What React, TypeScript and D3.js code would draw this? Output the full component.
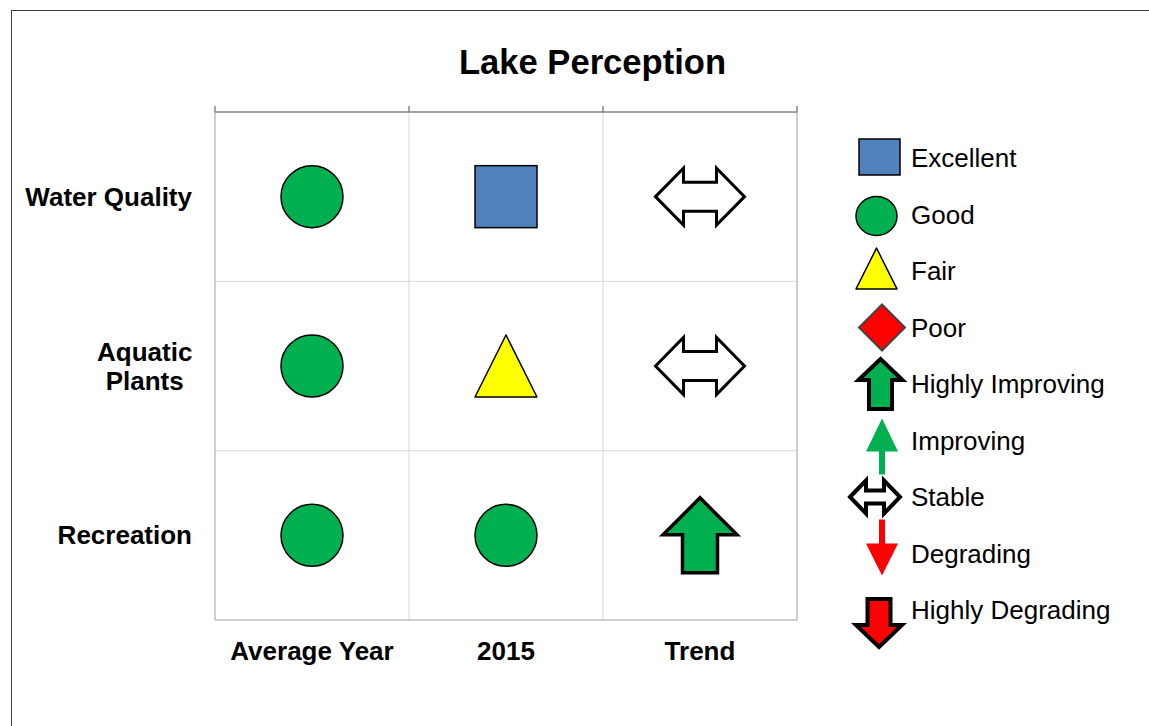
import * as d3 from "d3"

const rowLabels = [["Water Quality"], ["Aquatic", "Plants"], ["Recreation"]]
const colLabels = ["Average Year", "2015", "Trend"]
// rating of each cell, row by row
const ratings = [
  ["Good", "Excellent", "Stable"],
  ["Good", "Fair", "Stable"],
  ["Good", "Good", "Highly Improving"],
]
const legendItems = [
  "Excellent", "Good", "Fair", "Poor", "Highly Improving",
  "Improving", "Stable", "Degrading", "Highly Degrading",
]

const W = 1149
const H = 726
const FONT = "'Liberation Sans', Arial, Helvetica, sans-serif"
const GREEN = "#00B050"
const BLUE = "#4F81BD"
const YELLOW = "#FFFF00"
const RED = "#FF0000"

function line(pts: [number, number][]) {
  return d3.line()(pts.concat([pts[0]])) + "Z"
}

function arrowUp(cx: number, cy: number, headW: number, shaftW: number, h: number, headH: number) {
  const top = cy - h / 2
  const bot = cy + h / 2
  return line([
    [cx, top], [cx + headW / 2, top + headH], [cx + shaftW / 2, top + headH],
    [cx + shaftW / 2, bot], [cx - shaftW / 2, bot], [cx - shaftW / 2, top + headH],
    [cx - headW / 2, top + headH],
  ])
}

function arrowDown(cx: number, cy: number, headW: number, shaftW: number, h: number, headH: number) {
  const top = cy - h / 2
  const bot = cy + h / 2
  return line([
    [cx, bot], [cx + headW / 2, bot - headH], [cx + shaftW / 2, bot - headH],
    [cx + shaftW / 2, top], [cx - shaftW / 2, top], [cx - shaftW / 2, bot - headH],
    [cx - headW / 2, bot - headH],
  ])
}

function doubleArrow(cx: number, cy: number, w: number, h: number, headL: number, shaftH: number) {
  const l = cx - w / 2, r = cx + w / 2
  return line([
    [l, cy], [l + headL, cy - h / 2], [l + headL, cy - shaftH / 2], [r - headL, cy - shaftH / 2],
    [r - headL, cy - h / 2], [r, cy], [r - headL, cy + h / 2], [r - headL, cy + shaftH / 2],
    [l + headL, cy + shaftH / 2], [l + headL, cy + h / 2],
  ])
}

function Marker({ kind, cx, cy, legend }: { kind: string; cx: number; cy: number; legend?: boolean }) {
  const k = legend ? 0.66 : 1
  switch (kind) {
    case "Excellent": {
      const w = legend ? 41 : 62, h = legend ? 36 : 62
      return <rect x={cx - w / 2} y={cy - h / 2} width={w} height={h} fill={BLUE} stroke="#000" strokeWidth={1.5} />
    }
    case "Good":
      return legend
        ? <ellipse cx={cx} cy={cy} rx={20.5} ry={19.5} fill={GREEN} stroke="#000" strokeWidth={1.5} />
        : <circle cx={cx} cy={cy} r={31} fill={GREEN} stroke="#000" strokeWidth={1.5} />
    case "Fair": {
      const w = 62 * k, h = 62 * k
      return <path d={line([[cx, cy - h / 2], [cx + w / 2, cy + h / 2], [cx - w / 2, cy + h / 2]])}
        fill={YELLOW} stroke="#000" strokeWidth={1.5} strokeLinejoin="round" />
    }
    case "Poor": {
      const r = legend ? 23 : 34
      return <path d={line([[cx, cy - r], [cx + r, cy], [cx, cy + r], [cx - r, cy]])}
        fill={RED} stroke="#444" strokeWidth={2} />
    }
    case "Highly Improving":
      return legend
        ? <path d={arrowUp(cx, cy, 44, 23, 50, 21)} fill={GREEN} stroke="#000" strokeWidth={4} />
        : <path d={arrowUp(cx, cy, 74, 35, 75, 37)} fill={GREEN} stroke="#000" strokeWidth={3.5} />
    case "Improving":
      return <path d={arrowUp(cx, cy, 32, 6, 56, 33)} fill={GREEN} />
    case "Stable":
      return legend
        ? <path d={doubleArrow(cx, cy, 50, 33, 16, 13)} fill="#fff" stroke="#000" strokeWidth={4} />
        : <path d={doubleArrow(cx, cy, 89, 57, 28, 29)} fill="#fff" stroke="#000" strokeWidth={3} />
    case "Degrading":
      return <path d={arrowDown(cx, cy, 32, 6, 56, 32)} fill={RED} />
    case "Highly Degrading":
      return legend
        ? <path d={arrowDown(cx, cy, 46, 23, 48, 22)} fill={RED} stroke="#000" strokeWidth={4} />
        : <path d={arrowDown(cx, cy, 74, 35, 75, 37)} fill={RED} stroke="#000" strokeWidth={3.5} />
  }
  return null
}

export default function App() {
  const x = d3.scaleBand<string>().domain(colLabels).range([215, 797])
  const rowKeys = rowLabels.map(r => r.join(" "))
  const y = d3.scaleBand<string>().domain(rowKeys).range([112, 620])
  const ly = d3.scalePoint<string>().domain(legendItems).range([158, 610])
  const legendX: Record<string, number> = {
    "Excellent": 879.5, "Good": 876.5, "Fair": 876.5, "Poor": 882,
    "Highly Improving": 880.5, "Improving": 882, "Stable": 875,
    "Degrading": 882, "Highly Degrading": 879,
  }
  const legendDy: Record<string, number> = { "Excellent": -1, "Good": 1.5, "Fair": -2.5, "Improving": 6, "Degrading": -6, "Highly Degrading": 13 }
  const bw = x.bandwidth()
  const bh = y.bandwidth()
  const cols = colLabels.map(c => x(c) as number)
  const labelRight = 192
  const fs = 26

  return (
    <div style={{ position: "absolute", left: 0, top: 0 }}>
      <svg width={W} height={H} style={{ display: "block", fontFamily: FONT }}>
        <rect x={0} y={0} width={W} height={H} fill="#fff" />
        <rect x={11.5} y={10.5} width={W + 20} height={H + 20} fill="none" stroke="#404040" strokeWidth={1} />

        <text x={592.5} y={62} textAnchor="middle" dominantBaseline="central" fontSize={34.6} fontWeight="bold">Lake Perception</text>

        {/* grid */}
        <g stroke="#d9d9d9" strokeWidth={1}>
          {cols.slice(1).map(c => <line key={c} x1={c} x2={c} y1={112} y2={620} />)}
          {rowKeys.slice(1).map(r => <line key={r} x1={215} x2={797} y1={y(r)} y2={y(r)} />)}
        </g>
        <g stroke="#bfbfbf" strokeWidth={1.5}>
          <line x1={215} x2={215} y1={112} y2={620} />
          <line x1={797} x2={797} y1={112} y2={620} />
          <line x1={215} x2={797} y1={620} y2={620} />
        </g>
        {/* top axis with ticks */}
        <g stroke="#868686" strokeWidth={1.5}>
          <line x1={215} x2={797} y1={112} y2={112} />
          {cols.concat([797]).map(c => <line key={c} x1={c} x2={c} y1={106} y2={112} />)}
        </g>

        {/* row labels: multi-line labels are centred on their block, right edge at labelRight */}
        {rowLabels.map((lines, i) => {
          const cy = (y(rowKeys[i]) as number) + bh / 2
          const multi = lines.length > 1
          const blockW = d3.max(lines, t => t.length) as number * fs * 0.52
          const tx = multi ? labelRight - blockW / 2 : labelRight
          return (
            <text key={i} textAnchor={multi ? "middle" : "end"} fontSize={fs} fontWeight="bold">
              {lines.map((t, j) => (
                <tspan key={j} x={tx} y={cy + (j - (lines.length - 1) / 2) * 29} dominantBaseline="central">{t}</tspan>
              ))}
            </text>
          )
        })}

        {/* column labels */}
        {colLabels.map(c => (
          <text key={c} x={(x(c) as number) + bw / 2} y={651} textAnchor="middle" dominantBaseline="central"
            fontSize={fs} fontWeight="bold">{c}</text>
        ))}

        {/* cells */}
        {ratings.map((row, i) => row.map((kind, j) => (
          <Marker key={`${i}-${j}`} kind={kind}
            cx={(x(colLabels[j]) as number) + bw / 2}
            cy={(y(rowKeys[i]) as number) + bh / 2} />
        )))}

        {/* legend */}
        {legendItems.map(item => (
          <g key={item}>
            <Marker kind={item} cx={legendX[item]} cy={(ly(item) as number) + (legendDy[item] || 0)} legend />
            <text x={911} y={ly(item)} dominantBaseline="central" fontSize={fs}>{item}</text>
          </g>
        ))}
      </svg>
    </div>
  )
}
